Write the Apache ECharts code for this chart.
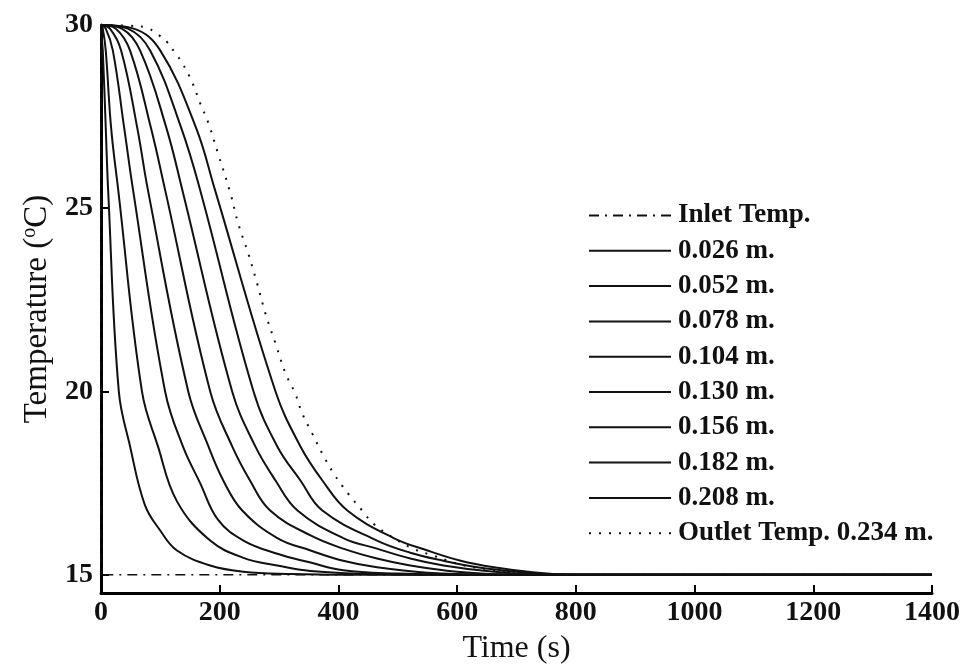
<!DOCTYPE html>
<html>
<head>
<meta charset="utf-8">
<script src="https://cdn.jsdelivr.net/npm/echarts@6/dist/echarts.min.js"></script>
<style>
html,body{margin:0;padding:0;background:#fff;}
#chart{width:969px;height:666px;}
</style>
</head>
<body>
<div id="chart"></div>
<script>
// ---- data (time s, temperature °C) ----
const seriesNames = ['Inlet Temp.', '0.026 m.', '0.052 m.', '0.078 m.', '0.104 m.', '0.130 m.', '0.156 m.', '0.182 m.', '0.208 m.', 'Outlet Temp. 0.234 m.'];
const xTicks = [0, 200, 400, 600, 800, 1000, 1200, 1400];
const yTicks = [15, 20, 25, 30];

const inlet = [[0,30],[0,15],[1400,15]];
const p026 = [[0,30],[1,29.7],[3,29.3],[8,27.2],[12,25.5],[30,20],[49,18.5],[74,16.9],[100,16.2],[128,15.66],[184,15.25],[240,15.08],[320,15.02],[420,15],[1400,15]];
const p052 = [[0,30],[3,29.9],[8,29.3],[17,27.2],[29,25.5],[69,20],[96,18.5],[128,17.0],[184,15.93],[240,15.46],[297,15.25],[353,15.1],[450,15.02],[550,15],[1400,15]];
const p078 = [[0,30],[8,29.9],[20,29.3],[39,27.2],[54,25.5],[108,20],[138,18.5],[167,17.5],[197,16.5],[240,15.93],[297,15.57],[353,15.33],[408,15.12],[500,15.03],[600,15],[1400,15]];
const p104 = [[0,30],[15,29.9],[34,29.3],[61,27.2],[79,25.5],[147,20],[181,18.5],[206,17.57],[238,16.75],[297,16.0],[353,15.66],[408,15.38],[465,15.2],[550,15.05],[650,15],[1400,15]];
const p130 = [[0,30],[25,29.9],[49,29.3],[84,27.2],[108,25.5],[184,20],[221,18.5],[251,17.57],[285,16.75],[353,16.07],[408,15.71],[465,15.44],[521,15.25],[600,15.08],[700,15],[1400,15]];
const p156 = [[0,30],[35,29.9],[66,29.3],[110,27.2],[137,25.5],[221,20],[260,18.5],[294,17.57],[331,16.75],[408,16.0],[465,15.71],[521,15.44],[577,15.25],[650,15.1],[750,15],[1400,15]];
const p182 = [[0,30],[45,29.9],[83,29.3],[135,27.2],[167,25.5],[257,20],[297,18.5],[336,17.57],[373,16.75],[465,15.93],[521,15.6],[577,15.38],[634,15.2],[700,15.08],[780,15],[1400,15]];
const p208 = [[0,30],[55,29.9],[100,29.3],[160,27.2],[192,25.5],[294,20],[336,18.5],[373,17.57],[415,16.75],[493,16.0],[550,15.66],[606,15.38],[662,15.2],[720,15.08],[790,15],[1400,15]];
const outlet = [[0,30],[60,29.97],[78,29.92],[95,29.75],[111,29.54],[125,29.23],[137,28.96],[154,28.42],[167,27.87],[181,27.32],[197,26.5],[218,25.41],[231,24.59],[248,23.77],[263,22.95],[277,22.13],[294,21.31],[311,20.49],[327,19.95],[339,19.4],[356,18.85],[373,18.3],[392,17.76],[417,17.2],[440,16.75],[459,16.39],[493,16.0],[527,15.7],[560,15.52],[594,15.33],[628,15.2],[700,15.07],[800,15],[1400,15]];

const curveData = [inlet, p026, p052, p078, p104, p130, p156, p182, p208, outlet];

const FONT = '"Liberation Serif","Times New Roman",serif';
const chart = echarts.init(document.getElementById('chart'), null, {renderer: 'canvas'});

const series = curveData.map((d, i) => {
  let ls = {color: '#111', width: 2, type: 'solid'};
  if (i === 0) ls = {color: '#111', width: 1.5, type: [10, 6, 2, 6]};
  if (i === curveData.length - 1) ls = {color: '#111', width: 2, type: [2, 8]};
  return {
    name: seriesNames[i],
    type: 'line',
    data: d,
    showSymbol: false,
    symbol: 'none',
    smooth: i === 0 ? false : 0.4,
    clip: false,
    lineStyle: ls,
    itemStyle: {color: '#111'},
    silent: true,
    animation: false
  };
});

chart.setOption({
  animation: false,
  backgroundColor: '#fff',
  grid: {left: 101, right: 37, top: 25, bottom: 73, containLabel: false, outerBoundsMode: 'none'},
  legend: {
    orient: 'vertical',
    left: 588,
    top: 202,
    padding: 0,
    itemGap: 8.3,
    itemWidth: 82,
    itemHeight: 14,
    data: seriesNames,
    itemStyle: {color: 'rgba(0,0,0,0)', borderWidth: 0, opacity: 0},
    textStyle: {fontFamily: FONT, fontWeight: 'bold', fontSize: 27, color: '#111', lineHeight: 27, padding: [0,0,0,2]},
    selectedMode: false
  },
  xAxis: {
    type: 'value',
    min: 0, max: 1400, interval: 200,
    name: 'Time (s)',
    nameLocation: 'middle',
    nameGap: 40,
    nameTextStyle: {fontFamily: FONT, fontSize: 32, color: '#111'},
    axisLine: {onZero: false, lineStyle: {color: '#000', width: 3}},
    axisTick: {inside: true, length: 8, lineStyle: {color: '#000', width: 2}},
    axisLabel: {fontFamily: FONT, fontWeight: 'bold', fontSize: 28, color: '#111', margin: 6, formatter: v => String(v)},
    splitLine: {show: false}
  },
  yAxis: {
    type: 'value',
    min: 14.5, max: 30,
    name: '{a|Temperature (}{s|o}{a|C)}',
    nameLocation: 'middle',
    nameGap: 38,
    nameTextStyle: {
      fontFamily: FONT, fontSize: 33, color: '#111',
      rich: {
        a: {fontFamily: FONT, fontSize: 33, color: '#111'},
        s: {fontFamily: FONT, fontSize: 20, color: '#111', verticalAlign: 'top', padding: [0,0,16,0]}
      }
    },
    axisLine: {onZero: false, lineStyle: {color: '#000', width: 3}},
    axisTick: {inside: true, length: 8, lineStyle: {color: '#000', width: 2}, customValues: yTicks},
    axisLabel: {fontFamily: FONT, fontWeight: 'bold', fontSize: 28, color: '#111', margin: 8, customValues: yTicks, formatter: v => String(v)},
    splitLine: {show: false}
  },
  series: series
});
</script>
</body>
</html>
